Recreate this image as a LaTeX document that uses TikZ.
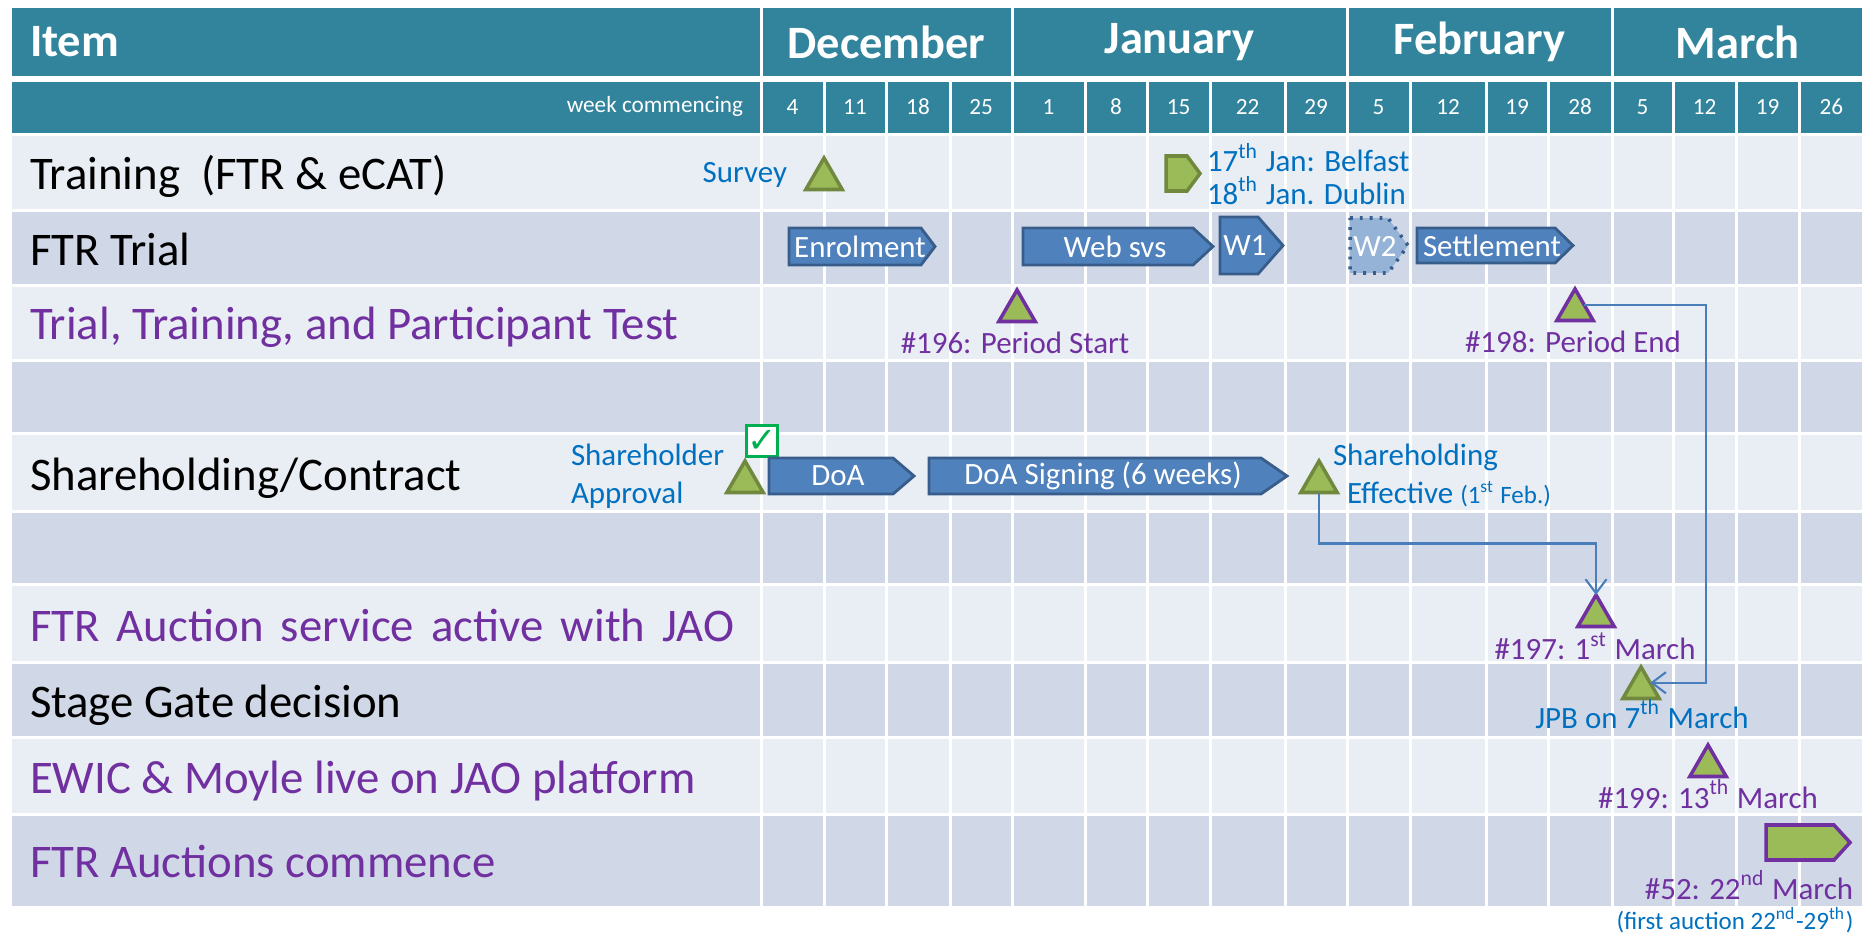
\documentclass[tikz,border=0pt]{standalone}
\usepackage{fontspec}
\setmainfont{Carlito}
\newfontfamily\symfont{DejaVu Sans}
\newcommand*{\rowfont}{\fontsize{13.3}{15}\selectfont}
\newcommand*{\headfont}{\bfseries\fontsize{13.2}{15}\selectfont}
\newcommand*{\weekfont}{\fontsize{6.6}{7}\selectfont}
\newcommand*{\notefont}{\fontsize{8.8}{9}\selectfont}
\newcommand*{\smallnotefont}{\fontsize{7.1}{8}\selectfont}
\newcommand*{\plate}[6]{\draw[#1] (#2,#4) -- ({#3-#6},#4) -- (#3,{(#4+#5)/2}) -- ({#3-#6},#5) -- (#2,#5) -- cycle;}
\definecolor{T}{HTML}{31849B}
\definecolor{L}{HTML}{E9EDF4}
\definecolor{D}{HTML}{D0D8E8}
\definecolor{B}{HTML}{4F81BD}
\definecolor{E}{HTML}{385D8A}
\definecolor{S}{HTML}{95B3D7}
\definecolor{G}{HTML}{9BBB59}
\definecolor{O}{HTML}{71893F}
\definecolor{P}{HTML}{7030A0}
\definecolor{U}{HTML}{0070C0}
\definecolor{K}{HTML}{00B050}
\definecolor{A}{HTML}{4A7EBB}
\usepackage{tikz}
\usetikzlibrary{arrows.meta}
\usetikzlibrary{calc}
\usetikzlibrary{shapes.geometric}
\tikzstyle{base}=[x=0.01cm, y=-0.01cm, inner sep=0pt, outer sep=0pt]
\tikzstyle{item}=[anchor=base west, font=\rowfont]
\tikzstyle{head}=[text=white, font=\headfont]
\tikzstyle{week}=[text=white, font=\weekfont]
\tikzstyle{note}=[text=U, font=\notefont]
\tikzstyle{msgreen}=[regular polygon, regular polygon sides=3, minimum size=0.42cm, fill=G, draw=O, line width=1pt]
\tikzstyle{mspurple}=[msgreen, draw=P]
\tikzstyle{bar}=[fill=B, draw=E, line width=0.8pt]
\tikzstyle{bartext}=[text=white, font=\notefont]
\tikzstyle{link}=[draw=A, line width=0.6pt, -{Straight Barb[length=4pt, width=6pt]}]

\begin{document}
\begin{tikzpicture}[base]
        \fill[white] (0,0) rectangle (1864,934);
        \fill[T] (12,8) rectangle (759.5,76);
        \fill[T] (12,82) rectangle (759.5,133);
        \node[head, anchor=west] (item) at (30,42) {Item};
        \node[week, anchor=east] (wc) at (743,106) {week commencing};
        \foreach \xa/\xb/\m in {761/1012/December, 1012/1347/January, 1347/1612/February, 1612/1863.5/March} {
            \fill[T] (\xa+1.5,8) rectangle (\xb-1.5,76);
            \node[head] at ({(\xa+\xb)/2},42) {\m};
        }
        \foreach \xa/\xb/\w in {761/824/4, 824/886/11, 886/950/18, 950/1012/25, 1012/1085/1, 1085/1147/8, 1147/1210/15, 1210/1285/22, 1285/1347/29, 1347/1410/5, 1410/1486/12, 1486/1548/19, 1548/1612/28, 1612/1673/5, 1673/1736/12, 1736/1799/19, 1799/1863.5/26} {
            \fill[T] (\xa+1.5,82) rectangle (\xb-1.5,133);
            \node[week] at ({(\xa+\xb)/2},107) {\w};
        }
        \foreach \ya/\yb/\c in {134.5/211/L, 211/286/D, 286/361/L, 361/434/D, 434/512/L, 512/585/D, 585/662/L, 662/737/D, 737/814/L, 814/907/D}
            \foreach \xa/\xb in {10.5/761, 761/824, 824/886, 886/950, 950/1012, 1012/1085, 1085/1147, 1147/1210, 1210/1285, 1285/1347, 1347/1410, 1410/1486, 1486/1548, 1548/1612, 1612/1673, 1673/1736, 1736/1799, 1799/1863.5}
                \fill[\c] (\xa+1.5,\ya+1.5) rectangle (\xb-1.5,\yb-1.5);

        \node[item] (lTrain) at (30,190) {Training\ \ (FTR \& eCAT)};
        \node[item] (lTrial) at (30,266) {FTR Trial};
        \node[item, text=P] (lTest) at (30,340) {Trial, Training, and Participant Test};
        \node[item] (lShare) at (30,491) {Shareholding/Contract};
        \node[item, text=P] (lJao) at (30,641) {\spaceskip=0.37em FTR Auction service active with JAO};
        \node[item] (lGate) at (30,717) {Stage Gate decision};
        \node[item, text=P] (lEwic) at (30,793) {EWIC \& Moyle live on JAO platform};
        \node[item, text=P] (lStart) at (30,877) {FTR Auctions commence};

        \node[msgreen] (survey) at (824,179) {};
        \node[note, anchor=east] (tSurvey) at (787,175) {Survey};
        \plate{bar, fill=G, draw=O, line width=1pt}{1166}{1200}{156}{191}{13}
        \node[note, anchor=base west] (tBelfast) at (1207,172) {17\textsuperscript{th} Jan: Belfast};
        \node[note, anchor=base west] (tDublin) at (1207,205) {18\textsuperscript{th} Jan. Dublin};

        \plate{bar}{789}{935}{228}{265}{14}
        \node[bartext] (enrol) at (860,247) {Enrolment};
        \plate{bar}{1023}{1213}{228}{265}{20}
        \node[bartext] (web) at (1115,247) {Web svs};
        \plate{bar}{1220}{1283}{217}{274}{25}
        \node[bartext] (w1) at (1245,246) {W1};
        \plate{bar, fill=S, dotted, line width=1pt}{1350}{1408}{218}{273}{20}
        \node[bartext] (w2) at (1375,246) {W2};
        \plate{bar}{1417}{1573}{228}{263}{18}
        \node[bartext] (settle) at (1492,246) {Settlement};

        \node[mspurple] (p196) at (1017,311) {};
        \node[note, text=P] (t196) at (1015,343) {\#196: Period Start};
        \node[mspurple] (p198) at (1575,310) {};
        \node[note, text=P] (t198) at (1573,342) {\#198: Period End};

        \node[note, anchor=west, align=left] (tApprove) at (571,476) {Shareholder\\[1.8pt]Approval};
        \node[msgreen] (approve) at (745,482) {};
        \node[draw=K, fill=white, line width=0.8pt, minimum size=0.31cm, text=K] (tick) at (762,441) {\symfont\fontsize{10}{10}\selectfont ✓};
        \plate{bar}{769}{914}{458}{494}{21}
        \node[bartext] (doa) at (838,476) {DoA};
        \plate{bar}{929}{1287}{458}{494}{26}
        \node[bartext] (sign) at (1103,476) {DoA Signing (6 weeks)};
        \node[msgreen] (effect) at (1319,482) {};
        \node[note, anchor=west, align=left] (tEffect) at (1333,475) {Shareholding\\[1.8pt]\hspace*{0.14cm}Effective {\smallnotefont(1\textsuperscript{st} Feb.)}};

        \node[mspurple] (p197) at (1596,616) {};
        \node[note, text=P] (t197) at (1595,646) {\#197: 1\textsuperscript{st} March};
        \node[msgreen] (jpb) at (1641,688) {};
        \node[note] (tJpb) at (1642,714) {JPB on 7\textsuperscript{th} March};
        \node[mspurple] (p199) at (1708,766) {};
        \node[note, text=P] (t199) at (1708,794) {\#199: 13\textsuperscript{th} March};
        \plate{bar, fill=G, draw=P, line width=1pt}{1766}{1850}{825}{860}{16}
        \node[note, text=P] (t52) at (1749,885) {\#52: 22\textsuperscript{nd} March};
        \node[note, font=\smallnotefont] (tFirst) at (1735,920) {(first auction 22\textsuperscript{nd}-29\textsuperscript{th})};

        \coordinate (turn) at (1706,0);
        \coordinate (m198) at ($(p198.corner 1)!0.5!(p198.corner 3)$);
        \coordinate (mJpb) at ($(jpb.corner 1)!0.5!(jpb.corner 3)$);
        \draw[link] (effect.south) -- ++(0,51) -| (p197.corner 1);
        \draw[link] (m198) -| (turn |- mJpb) -- (mJpb);
        \path [use as bounding box] (0,0) rectangle (1864,934);
    \end{tikzpicture}
\end{document}
